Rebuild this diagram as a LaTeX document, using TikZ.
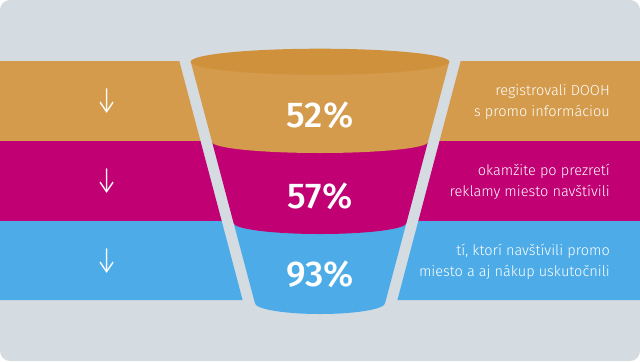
\documentclass[tikz,border=0pt]{standalone}
\usepackage{fontspec}
\newfontfamily\lightfont{Fira Sans Light}
\newfontfamily\pctfont{Fira Sans Medium}
\definecolor{bggray}{HTML}{D4DCE2}
\definecolor{cOr}{HTML}{D49B4C}
\definecolor{cTop}{HTML}{D0913C}
\definecolor{cMag}{HTML}{C00073}
\definecolor{cBlue}{HTML}{4DACE8}
\newcommand{\narrowdown}{\scalebox{0.62}[1]{↓}}
\tikzset{
  pct/.style={text=white, inner sep=0pt, font=\pctfont\fontsize{36}{36}\selectfont},
  arr/.style={text=white, inner sep=0pt, font=\lightfont\fontsize{38}{38}\selectfont},
  desc/.style={text=white, inner sep=0pt, anchor=east, align=right, font=\lightfont\fontsize{14.6}{20.5}\selectfont}
}
\begin{document}
\begin{tikzpicture}[x=1bp,y=-1bp]
\useasboundingbox (0,0) rectangle (640,361);
\fill[white] (0,0) rectangle (640,361);
\fill[bggray, rounded corners=10bp] (0,0) rectangle (640,361);
% left bands
\fill[cOr]   (0,61)  -- (179.3,61)  -- (200.5,141) -- (0,141) -- cycle;
\fill[cMag]  (0,141) -- (200.5,141) -- (221.7,221) -- (0,221) -- cycle;
\fill[cBlue] (0,221) -- (221.7,221) -- (242.6,300) -- (0,300) -- cycle;
% right bands
\fill[cOr]   (640,61)  -- (460.7,61)  -- (439.5,141) -- (640,141) -- cycle;
\fill[cMag]  (640,141) -- (439.5,141) -- (418.3,221) -- (640,221) -- cycle;
\fill[cBlue] (640,221) -- (418.3,221) -- (397.4,300) -- (640,300) -- cycle;
% funnel
\fill[cBlue] (233.6,223) -- (254.9,303) arc[start angle=180, end angle=360, x radius=65.1bp, y radius=11bp] -- (406.4,223) -- cycle;
\fill[cMag] (212.1,142) -- (233.6,223) arc[start angle=180, end angle=360, x radius=86.4bp, y radius=11bp] -- (427.9,142) -- cycle;
\fill[cOr] (190.7,61.7) -- (212.1,142) arc[start angle=180, end angle=360, x radius=107.9bp, y radius=11bp] -- (449.3,61.7) -- cycle;
\fill[cTop] (320,61.7) ellipse [x radius=129.3bp, y radius=13bp];
% labels
\node[pct] (p1) at (320,115) {52\%};
\node[pct] (p2) at (320,196.5) {57\%};
\node[pct] (p3) at (320,274.5) {93\%};
\node[arr] (a1) at (107,101) {\narrowdown};
\node[arr] (a2) at (107,181) {\narrowdown};
\node[arr] (a3) at (107,261) {\narrowdown};
\node[desc] (t1) at (610,102) {registrovali DOOH\\s promo informáciou};
\node[desc] (t2) at (610,182) {okamžite po prezretí\\reklamy miesto navštívili};
\node[desc] (t3) at (610,262) {tí, ktorí navštívili promo\\miesto a aj nákup uskutočnili};
\end{tikzpicture}
\end{document}
